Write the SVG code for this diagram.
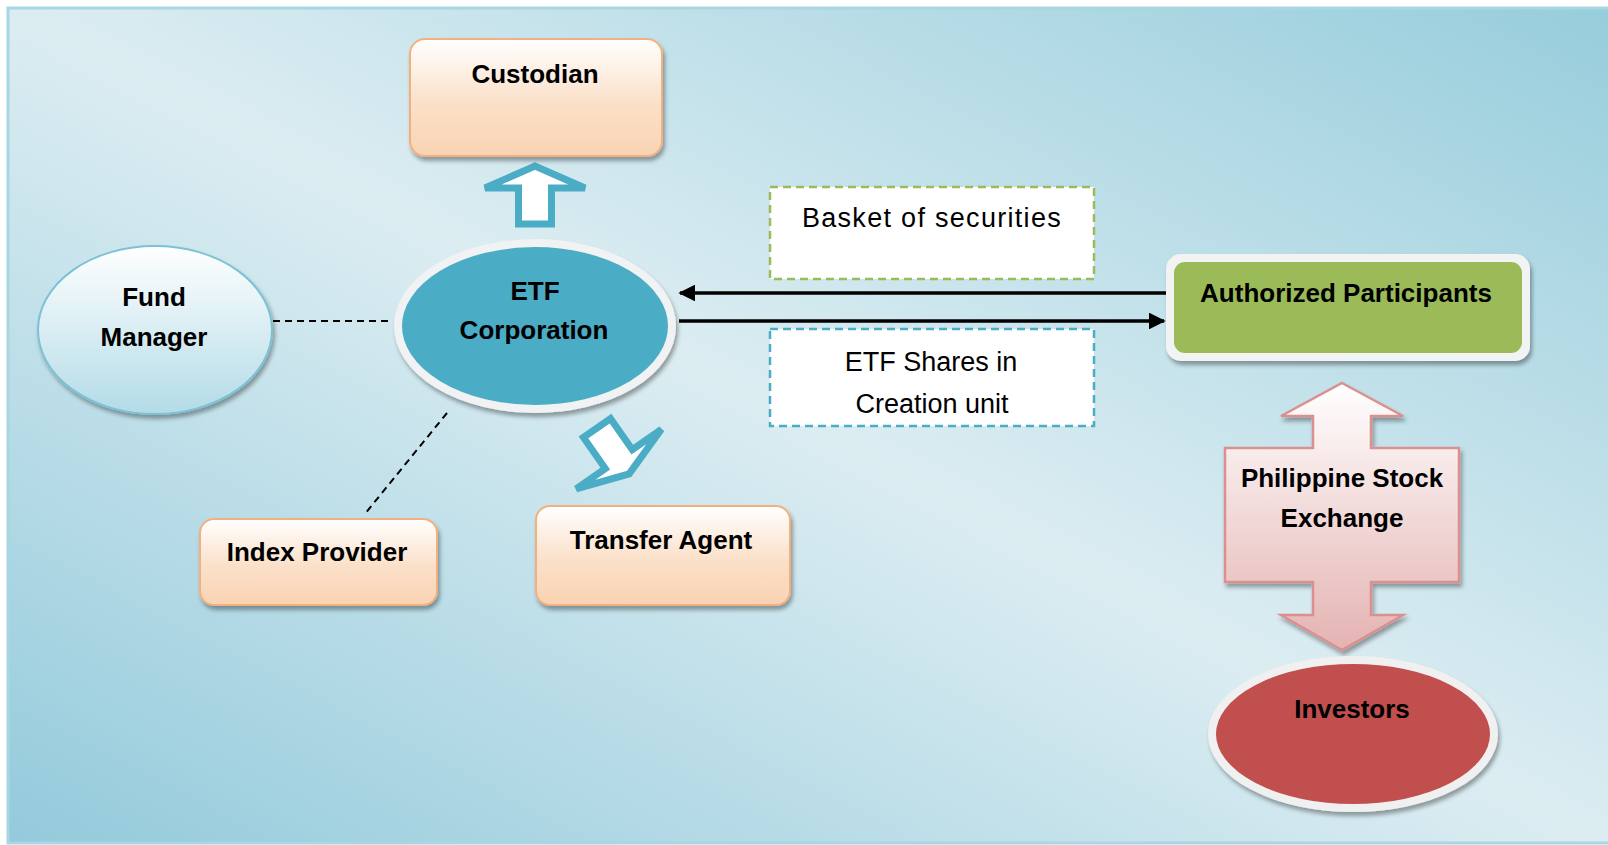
<svg xmlns="http://www.w3.org/2000/svg" width="1608" height="845" viewBox="0 0 1608 845">
<defs>
<linearGradient id="bg" x1="0" y1="1" x2="1" y2="0">
<stop offset="0" stop-color="#93cadb"/>
<stop offset="0.5" stop-color="#dcedf2"/>
<stop offset="1" stop-color="#97cddc"/>
</linearGradient>
<linearGradient id="peach" x1="0" y1="0" x2="0" y2="1">
<stop offset="0" stop-color="#ffffff"/>
<stop offset="0.55" stop-color="#fbe0c9"/>
<stop offset="1" stop-color="#f9d3b2"/>
</linearGradient>
<linearGradient id="fm" x1="0" y1="0" x2="0" y2="1">
<stop offset="0" stop-color="#ffffff"/>
<stop offset="1" stop-color="#b3dbe7"/>
</linearGradient>
<linearGradient id="pink" x1="0" y1="0" x2="0" y2="1">
<stop offset="0" stop-color="#ffffff"/>
<stop offset="1" stop-color="#e4b3b2"/>
</linearGradient>
<filter id="sh" x="-20%" y="-20%" width="140%" height="150%">
<feDropShadow dx="2" dy="4" stdDeviation="2" flood-color="#000" flood-opacity="0.35"/>
</filter>
<marker id="ah" viewBox="0 0 10 10" refX="9" refY="5" markerWidth="5" markerHeight="4.8" orient="auto" markerUnits="strokeWidth">
<path d="M0,0 L10,5 L0,10 z" fill="#000"/>
</marker>
<path id="blk" d="M-16.5,0 L16.5,0 L16.5,36 L50,36 L0,58 L-50,36 L-16.5,36 Z"/>
<path id="blk2" d="M-16.5,0 L16.5,0 L16.5,38 L52,38 L0,56 L-52,38 L-16.5,38 Z"/>
</defs>
<style>
text{font-family:"Liberation Sans",Arial,sans-serif;fill:#000;text-anchor:middle}
.b{font-weight:bold;font-size:26px}
.r{font-size:27px}
.peach{fill:url(#peach);stroke:#f3b07f;stroke-width:2}
.dash{stroke:#000;stroke-width:2;stroke-dasharray:7 5;fill:none}
.conn{stroke:#000;stroke-width:3.5;fill:none}
.blue{fill:#fff;stroke:#4bacc6;stroke-width:7;stroke-linejoin:miter}
</style>
<rect x="8" y="8" width="1602" height="835" fill="url(#bg)" stroke="#a9d6e3" stroke-width="3"/>

<g id="connectors">
<line class="dash" x1="273" y1="321" x2="392" y2="321"/>
<line class="dash" x1="447" y1="413" x2="364" y2="515"/>
<line class="conn" x1="1166" y1="293" x2="680" y2="293" marker-end="url(#ah)"/>
<line class="conn" x1="679" y1="321" x2="1164" y2="321" marker-end="url(#ah)"/>
<use href="#blk" class="blue" transform="translate(535,224) rotate(180)"/>
<use href="#blk2" class="blue" transform="translate(597,428) rotate(-35)"/>
</g>

<g id="custodian">
<rect class="peach" x="410" y="39" width="252" height="117" rx="15" filter="url(#sh)"/>
<text class="b" x="535" y="83">Custodian</text>
</g>

<g id="fund-manager">
<ellipse cx="155" cy="330" rx="117" ry="84" fill="url(#fm)" stroke="#7cc2d6" stroke-width="2" filter="url(#sh)"/>
<text class="b" x="154" y="306">Fund</text>
<text class="b" x="154" y="346">Manager</text>
</g>

<g id="etf-corporation">
<ellipse cx="535" cy="326" rx="137" ry="83" fill="#4bacc6" stroke="#f0f2f3" stroke-width="8" filter="url(#sh)"/>
<text class="b" x="535" y="300">ETF</text>
<text class="b" x="534" y="339">Corporation</text>
</g>

<g id="index-provider">
<rect class="peach" x="200" y="519" width="237" height="86" rx="14" filter="url(#sh)"/>
<text class="b" x="317" y="561">Index Provider</text>
</g>

<g id="transfer-agent">
<rect class="peach" x="536" y="506" width="254" height="99" rx="14" filter="url(#sh)"/>
<text class="b" x="661" y="549">Transfer Agent</text>
</g>

<g id="basket">
<rect x="770" y="187" width="324" height="92" fill="#fff" stroke="#9bbb59" stroke-width="2.5" stroke-dasharray="8 5"/>
<text class="r" x="932" y="227" letter-spacing="1.3">Basket of securities</text>
</g>

<g id="etf-shares">
<rect x="770" y="329" width="324" height="97" fill="#fff" stroke="#4bacc6" stroke-width="2.5" stroke-dasharray="8 5"/>
<text class="r" x="931" y="371">ETF Shares in</text>
<text class="r" x="932" y="413">Creation unit</text>
</g>

<g id="authorized-participants">
<rect x="1166" y="254" width="364" height="107" rx="15" fill="#f2f4f4" filter="url(#sh)"/>
<rect x="1174" y="262" width="348" height="91" rx="11" fill="#9bbb59"/>
<text class="b" x="1346" y="302">Authorized Participants</text>
</g>

<g id="pse">
<polygon points="1342,383 1403,416 1371,416 1371,448 1459,448 1459,582 1371,582 1371,615 1403,615 1342,650 1281,615 1313,615 1313,582 1225,582 1225,448 1313,448 1313,416 1281,416" fill="url(#pink)" stroke="#d9908f" stroke-width="2.5" filter="url(#sh)"/>
<text class="b" x="1342" y="487">Philippine Stock</text>
<text class="b" x="1342" y="527">Exchange</text>
</g>

<g id="investors">
<ellipse cx="1353" cy="734" rx="141" ry="74" fill="#c0504d" stroke="#f0f0f0" stroke-width="8" filter="url(#sh)"/>
<text class="b" x="1352" y="718">Investors</text>
</g>
</svg>
